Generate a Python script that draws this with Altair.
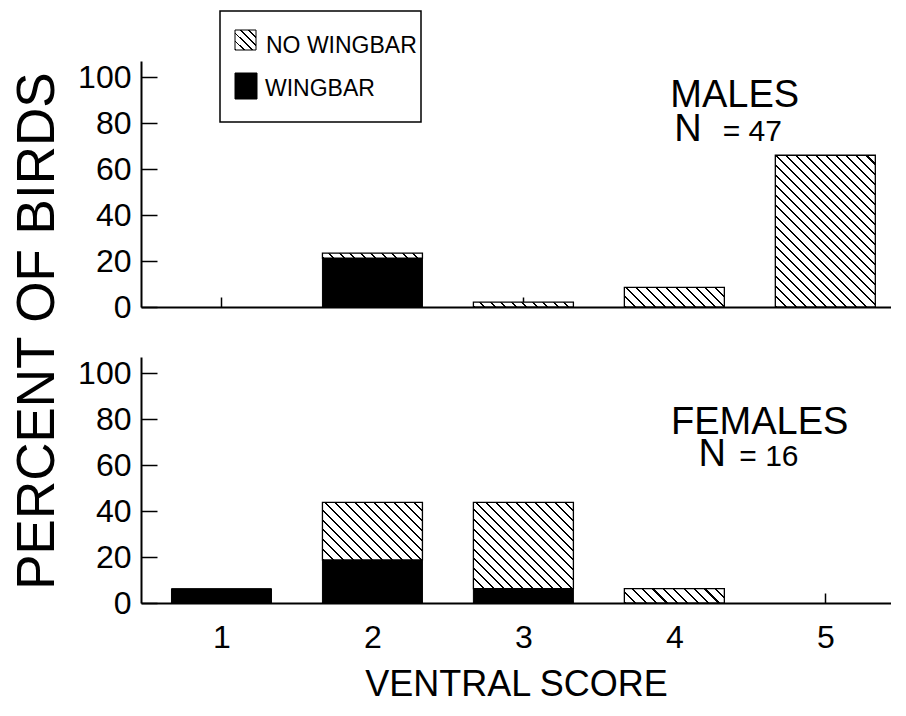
import altair as alt
import pandas as pd

FONT = "Liberation Sans"

# ---- data (percent of birds) ----
SCORES = [1, 2, 3, 4, 5]
MALE_WING = [0.0, 21.3, 0.0, 0.0, 0.0]
MALE_NOWING = [0.0, 2.1, 2.1, 8.5, 66.0]
FEMALE_WING = [6.25, 18.75, 6.25, 0.0, 0.0]
FEMALE_NOWING = [0.0, 25.0, 37.5, 6.25, 0.0]
Y_TICKS = [0, 20, 40, 60, 80, 100]
LEGEND_LABELS = ["NO WINGBAR", "WINGBAR"]

# ---- layout ----
W, H = 750, 246
YMAX = 107
XMIN, XMAX = 0.5, 0.5 + 750 / 153
BAR_PX = 100
PXY = H / YMAX


def hatch(w, h, sh=10.0, f=0.2):
    """Diagonal '\\' hatch fill as a linear gradient with hard stops."""
    n = max(1, int(round((w + h) / sh)))
    k = (w + h) / (w * w + h * h)
    stops = []
    for i in range(n):
        a = i / n
        b = (i + f) / n
        c = (i + 1) / n
        stops += [
            {"offset": round(a, 5), "color": "black"},
            {"offset": round(b, 5), "color": "black"},
            {"offset": round(b, 5), "color": "white"},
            {"offset": round(c, 5), "color": "white"},
        ]
    return {"gradient": "linear", "x1": 0, "y1": 1,
            "x2": k * w, "y2": 1 - k * h, "stops": stops}


def one_row(label):
    return alt.Chart(pd.DataFrame({"label": [label]}))


def legend_layers():
    box = one_row(LEGEND_LABELS[1]).mark_rect(
        fill="white", stroke="black", strokeWidth=1.5).encode(
        x=alt.value(79), x2=alt.value(280), y=alt.value(-50), y2=alt.value(61))
    sq_h = one_row(LEGEND_LABELS[0]).mark_rect(
        fill=hatch(21, 21, sh=8.0, f=0.22), stroke="black", strokeWidth=1).encode(
        x=alt.value(94), x2=alt.value(115), y=alt.value(-31), y2=alt.value(-11))
    sq_b = one_row(LEGEND_LABELS[1]).mark_rect(
        fill="black", stroke="black", strokeWidth=1).encode(
        x=alt.value(94), x2=alt.value(116), y=alt.value(12), y2=alt.value(38))
    t1 = one_row(LEGEND_LABELS[0]).mark_text(
        font=FONT, fontSize=23, align="left", baseline="middle", color="black").encode(
        text="label:N", x=alt.value(125), y=alt.value(-15))
    t2 = one_row(LEGEND_LABELS[1]).mark_text(
        font=FONT, fontSize=23, align="left", baseline="middle", color="black").encode(
        text="label:N", x=alt.value(124), y=alt.value(28))
    return [box, sq_h, sq_b, t1, t2]


def panel(wing, nowing, name, nval, name_pos, n_pos, eq_pos, bottom, with_legend):
    df = pd.DataFrame({"score": SCORES, "wing": wing, "nowing": nowing})
    base = alt.Chart(df)
    xscale = alt.Scale(domain=[XMIN, XMAX], nice=False, zero=False)
    yscale = alt.Scale(domain=[0, YMAX], nice=False)

    if bottom:
        xaxis = alt.Axis(values=SCORES, format="d", ticks=False, tickSize=0,
                         labelFontSize=32, labelFont=FONT, labelColor="black",
                         labelPadding=19, domainColor="black", domainWidth=2,
                         grid=False, title="VENTRAL SCORE", titleFont=FONT,
                         titleFontSize=36, titleFontWeight="normal",
                         titleColor="black", titlePadding=14)
    else:
        xaxis = alt.Axis(values=SCORES, labels=False, ticks=False, tickSize=0,
                         domainColor="black", domainWidth=2, grid=False, title=None)
    yaxis = alt.Axis(values=Y_TICKS, ticks=False, tickSize=0, labelFontSize=32,
                     labelFont=FONT, labelColor="black", labelPadding=10,
                     domainColor="black", domainWidth=2, grid=False, title=None)

    xn = alt.X("score:Q", scale=xscale, axis=None)
    yn = alt.Y("wing:Q", scale=yscale, axis=None)

    layers = []
    layers.append(base.transform_filter("datum.wing > 0")
                  .mark_bar(size=BAR_PX, stroke="black", strokeWidth=1, fill="black")
                  .encode(x=xn, y=yn))

    for s, wv, nv in zip(SCORES, wing, nowing):
        if nv <= 0:
            continue
        g = hatch(BAR_PX, nv * PXY)
        layers.append(
            base.transform_filter(f"datum.score == {s}")
            .transform_calculate(top="datum.wing + datum.nowing")
            .mark_bar(size=BAR_PX, stroke="black", strokeWidth=1.3, fill=g)
            .encode(x=xn, y=yn, y2="top:Q"))

    def txt(text, pos, size, align):
        return one_row(text).mark_text(font=FONT, fontSize=size, align=align,
                                       baseline="alphabetic", color="black").encode(
            text="label:N",
            x=alt.X(datum=pos[0], scale=xscale, axis=None),
            y=alt.Y(datum=pos[1], scale=yscale, axis=None))

    layers.append(txt(name, name_pos, 38, "center"))
    layers.append(txt("N", n_pos, 38, "left"))
    layers.append(txt(f"= {nval}", eq_pos, 30, "left"))

    # main axes (labels + domain lines)
    layers.append(base.mark_point(opacity=0).encode(
        x=alt.X("score:Q", scale=xscale, axis=xaxis),
        y=alt.Y("wing:Q", scale=yscale, axis=yaxis)))

    # inward-pointing ticks
    layers.append(base.mark_point(opacity=0).encode(
        x=alt.X("score:Q", scale=xscale,
                axis=alt.Axis(orient="top", offset=-H, values=SCORES, labels=False,
                              domain=False, ticks=True, tickSize=10, tickWidth=1.5,
                              tickColor="black", grid=False, title=None)),
        y=alt.Y("wing:Q", scale=yscale,
                axis=alt.Axis(orient="right", offset=-W, values=Y_TICKS, labels=False,
                              domain=False, ticks=True, tickSize=16, tickWidth=1.5,
                              tickColor="black", grid=False, title=None))))

    if with_legend:
        layers += legend_layers()
    return (alt.layer(*layers)
            .resolve_axis(x="independent", y="independent")
            .properties(width=W, height=H))


top = panel(MALE_WING, MALE_NOWING, "MALES", 47,
            (4.40, 87.0), (4.00, 72.2), (4.32, 72.2), False, True)
bottom = panel(FEMALE_WING, FEMALE_NOWING, "FEMALES", 16,
               (4.565, 73.5), (4.16, 59.6), (4.43, 59.6), True, False)

chart = (alt.vconcat(top, bottom, spacing=50, bounds="flush",
                     title=alt.TitleParams("PERCENT OF BIRDS", orient="left",
                                           anchor="middle", fontSize=53, font=FONT,
                                           fontWeight="normal", color="black",
                                           offset=13, dx=25))
         .properties(background="white",
                     padding={"left": 3, "top": 2, "right": 0, "bottom": 0})
         .configure_view(stroke=None))

chart.save("out.html", embed_options={"renderer": "svg", "actions": False})
